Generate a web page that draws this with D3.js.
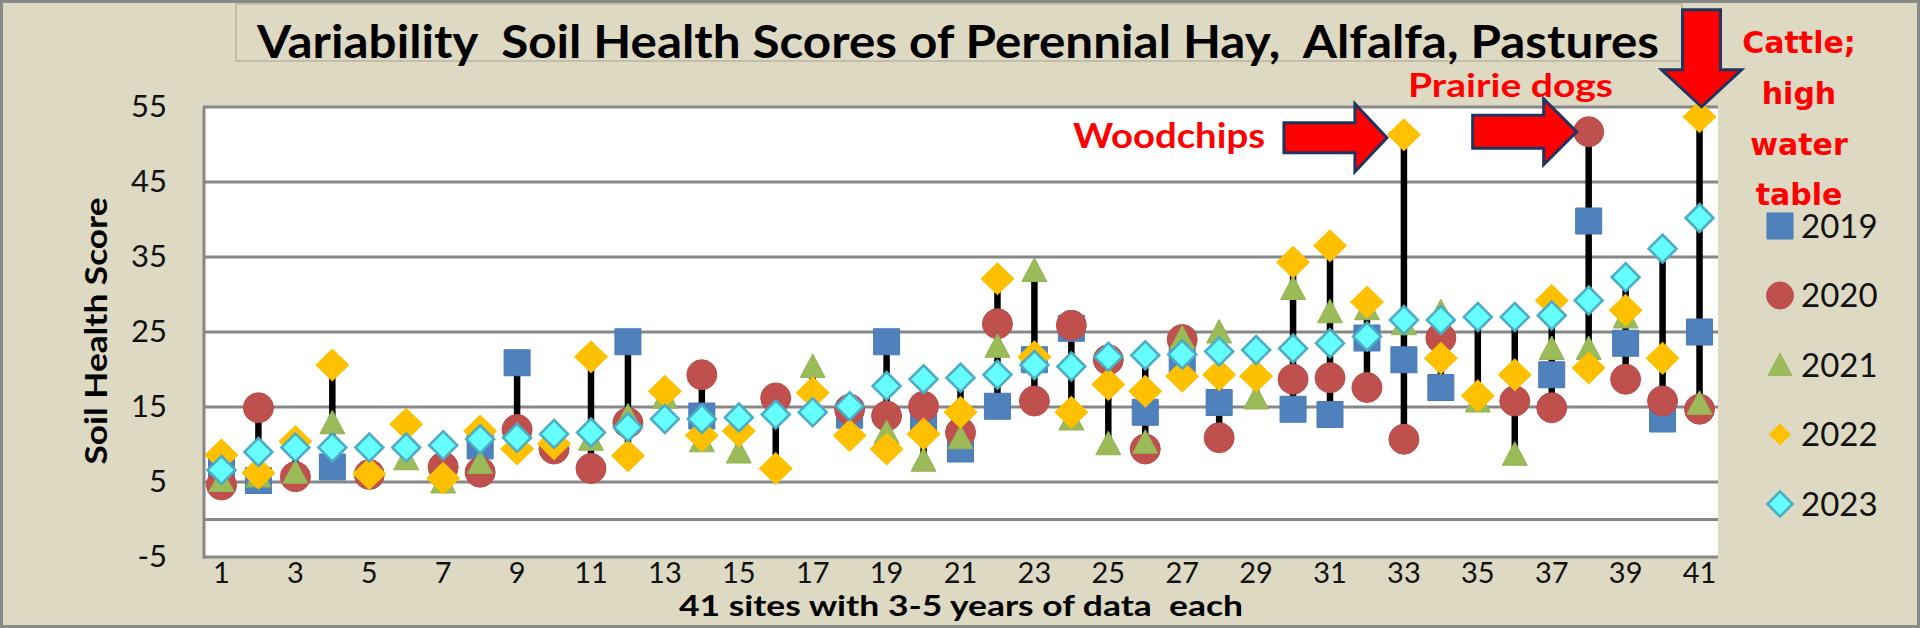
<!DOCTYPE html>
<html><head><meta charset="utf-8">
<script src="https://cdn.jsdelivr.net/npm/d3@7"></script>
<style>
body{margin:0;background:#fff}
svg{display:block}
text{white-space:pre}
</style>
</head><body>
<svg id="chart" width="1920" height="628"></svg>
<script>
// ---------------- data ----------------
const sites = d3.range(1, 42);
const seriesNames = ["2019", "2020", "2021", "2022", "2023"];
const s2019 = [6.5,5.2,null,7.0,null,null,null,9.8,20.9,null,null,23.7,null,13.8,null,null,null,13.9,23.7,13.4,9.4,15.1,21.3,25.5,null,14.3,21.3,15.6,null,14.7,14.0,24.2,21.3,17.6,null,null,19.3,39.8,23.5,13.4,25.0];
const s2020 = [4.6,14.9,5.7,null,6.0,null,7.0,6.3,12.0,9.4,6.8,12.9,null,19.3,null,16.2,null,14.7,13.8,15.1,11.6,26.1,15.8,25.9,21.3,9.4,24.0,10.9,null,18.7,18.9,17.6,10.7,24.2,null,15.8,14.9,51.7,18.7,15.8,14.7];
const s2021 = [5.2,5.8,6.3,12.9,null,8.1,5.0,7.6,null,null,10.7,13.8,16.3,10.5,9.0,null,20.4,null,11.6,7.9,10.9,23.1,33.2,13.4,10.1,10.3,24.2,25.0,16.2,30.8,27.7,28.1,26.1,27.7,15.8,8.7,22.8,22.8,27.0,null,15.5];
const s2022 = [8.6,6.2,10.4,20.6,6.1,12.7,5.5,11.8,9.4,10.1,21.7,8.5,17.1,11.2,11.8,6.8,16.9,11.2,9.4,11.4,14.3,32.1,21.7,14.3,18.0,17.1,19.1,19.3,19.1,34.3,36.5,29.0,51.3,21.5,16.5,19.3,29.2,20.2,27.9,21.5,53.7];
const s2023 = [6.6,9.0,9.6,9.6,9.6,9.6,9.9,10.7,10.9,11.4,11.6,12.3,13.4,13.4,13.6,14.0,14.3,15.1,17.8,18.7,18.9,19.3,20.6,20.4,21.7,21.9,22.0,22.4,22.6,22.8,23.5,24.4,26.6,26.6,27.0,27.0,27.2,29.2,32.3,36.1,40.2];
const yTicks = [-5, 5, 15, 25, 35, 45, 55];
const xTickLabels = sites.filter(d => d % 2 === 1);
const titleText = "Variability  Soil Health Scores of Perennial Hay,  Alfalfa, Pastures";
const yTitle = "Soil Health Score";
const xTitle = "41 sites with 3-5 years of data  each";
const noteWood = "Woodchips";
const notePrairie = "Prairie dogs";
const noteCattle = ["Cattle;", "high", "water", "table"];

const allSeries = [s2019, s2020, s2021, s2022, s2023];

// ---------------- layout ----------------
const svg = d3.select("#chart");
const W = 1920, H = 628;
const plot = {left: 203, right: 1718, top: 107, bottom: 557};

svg.append("rect").attr("x", 1.5).attr("y", 1.5).attr("width", W - 3).attr("height", H - 3)
  .attr("fill", "#DDD9C3").attr("stroke", "#898989").attr("stroke-width", 3);

// title box (faint)
svg.append("rect").attr("x", 236).attr("y", 4).attr("width", 1682 - 236).attr("height", 57)
  .attr("fill", "none").attr("stroke", "#B9B5A2").attr("stroke-width", 1.5);

svg.append("rect").attr("x", plot.left).attr("y", plot.top)
  .attr("width", plot.right - plot.left).attr("height", plot.bottom - plot.top).attr("fill", "#fff");

const x = d3.scaleBand().domain(sites).range([plot.left, plot.right]);
const xc = d => x(d) + x.bandwidth() / 2;
const y = d3.scaleLinear().domain([-5, 55]).range([plot.bottom, plot.top]);

// gridlines
const gridVals = yTicks.concat([0]);
svg.append("g").selectAll("line").data(gridVals).join("line")
  .attr("x1", plot.left).attr("x2", plot.right)
  .attr("y1", d => y(d)).attr("y2", d => y(d))
  .attr("stroke", "#878787").attr("stroke-width", 3);
svg.append("line").attr("x1", plot.left + 1).attr("x2", plot.left + 1)
  .attr("y1", plot.top).attr("y2", plot.bottom + 1.5)
  .attr("stroke", "#878787").attr("stroke-width", 3);

// axes labels
const yAxis = svg.append("g").attr("transform", `translate(${plot.left},0)`)
  .call(d3.axisLeft(y).tickValues(yTicks).tickSize(0).tickPadding(36).tickFormat(d => String(d)));
yAxis.select(".domain").remove();
yAxis.selectAll("text").attr("font-family", "Lato, 'Open Sans', sans-serif").attr("font-size", 31).attr("fill", "#111");

const xAxis = svg.append("g").attr("transform", `translate(0,${plot.bottom})`)
  .call(d3.axisBottom(x).tickValues(xTickLabels).tickSize(0).tickPadding(5).tickFormat(d => String(d)));
xAxis.select(".domain").remove();
xAxis.selectAll("text").attr("font-family", "Lato, 'Open Sans', sans-serif").attr("font-size", 29).attr("fill", "#111");

// titles
svg.append("text").attr("x", 257).attr("y", 58).text(titleText)
  .attr("font-family", "Lato, sans-serif").attr("font-weight", 700).attr("font-size", 46)
  .attr("textLength", 1402).attr("lengthAdjust", "spacingAndGlyphs").attr("fill", "#000");

svg.append("text").attr("transform", "translate(107,331) rotate(-90)").attr("text-anchor", "middle")
  .text(yTitle).attr("font-family", "Lato, sans-serif").attr("font-weight", 700).attr("font-size", 31)
  .attr("textLength", 267).attr("lengthAdjust", "spacingAndGlyphs").attr("fill", "#000");

svg.append("text").attr("x", 961).attr("y", 616).attr("text-anchor", "middle")
  .text(xTitle).attr("font-family", "Lato, sans-serif").attr("font-weight", 700).attr("font-size", 28)
  .attr("textLength", 564).attr("lengthAdjust", "spacingAndGlyphs").attr("fill", "#000");

// high-low lines
const extents = sites.map((s, i) => {
  const vals = allSeries.map(a => a[i]).filter(v => v != null);
  return {site: s, lo: d3.min(vals), hi: d3.max(vals)};
});
svg.append("g").selectAll("line").data(extents).join("line")
  .attr("x1", d => xc(d.site)).attr("x2", d => xc(d.site))
  .attr("y1", d => y(d.lo)).attr("y2", d => y(d.hi))
  .attr("stroke", "#000").attr("stroke-width", 6.5);

// marker definitions
const markers = [
  {fill: "#4F81BD", stroke: "#4A7AB5", sw: 1, path: s => `M${-13*s},${-13*s}h${26*s}v${26*s}h${-26*s}Z`},
  {fill: "#C0504D", stroke: "#B84B48", sw: 1, path: s => `M${-15*s},0a${15*s},${15*s} 0 1,0 ${30*s},0a${15*s},${15*s} 0 1,0 ${-30*s},0Z`},
  {fill: "#9BBB59", stroke: "#93B255", sw: 1, path: s => `M0,${-12.5*s}L${12.5*s},${11*s}L${-12.5*s},${11*s}Z`},
  {fill: "#FFC000", stroke: "#FFC000", sw: 1, path: s => `M0,${-16*s}L${16.5*s},0L0,${16*s}L${-16.5*s},0Z`},
  {fill: "#66FFFF", stroke: "#4BACC6", sw: 2.5, path: s => `M0,${-14*s}L${14*s},0L0,${14*s}L${-14*s},0Z`}
];

allSeries.forEach((arr, k) => {
  const m = markers[k];
  svg.append("g").selectAll("path")
    .data(sites.map((s, i) => ({site: s, v: arr[i]})).filter(d => d.v != null))
    .join("path")
    .attr("transform", d => `translate(${xc(d.site)},${y(d.v)})`)
    .attr("d", m.path(1))
    .attr("fill", m.fill).attr("stroke", m.stroke).attr("stroke-width", m.sw);
});

// legend
const legendScales = [1, 0.9, 0.95, 0.65, 0.9];
const leg = svg.append("g");
seriesNames.forEach((name, k) => {
  const ly = 226 + k * 69.5;
  const m = markers[k];
  leg.append("path").attr("transform", `translate(1780,${ly})`).attr("d", m.path(legendScales[k]))
    .attr("fill", m.fill).attr("stroke", m.stroke).attr("stroke-width", m.sw);
  leg.append("text").attr("x", 1801).attr("y", ly).attr("dy", "0.36em").text(name)
    .attr("font-family", "Lato, sans-serif").attr("font-size", 33).attr("fill", "#111");
});

// annotation arrows (positioned from the data scales)
const arrowStroke = "#1F3560";
function rightArrow(tipX, tipY, headLen, headHalf, shaftLen, shaftHalf) {
  const hx = tipX - headLen;
  return `M${hx - shaftLen},${tipY - shaftHalf}H${hx}V${tipY - headHalf}L${tipX},${tipY}L${hx},${tipY + headHalf}V${tipY + shaftHalf}H${hx - shaftLen}Z`;
}
function downArrow(tipX, tipY, headLen, headHalf, shaftLen, shaftHalf) {
  const hy = tipY - headLen;
  return `M${tipX - shaftHalf},${hy - shaftLen}H${tipX + shaftHalf}V${hy}H${tipX + headHalf}L${tipX},${tipY}L${tipX - headHalf},${hy}H${tipX - shaftHalf}Z`;
}
const woodTip = {x: xc(33) - 17, y: y(s2022[32]) + 3};
const prairieTip = {x: xc(38) - 12, y: y(s2020[37])};
const cattleTip = {x: xc(41) + 2, y: y(s2022[40]) - 10};

svg.append("path").attr("d", rightArrow(woodTip.x, woodTip.y, 32, 34, 71, 15))
  .attr("fill", "#FF0000").attr("stroke", arrowStroke).attr("stroke-width", 3).attr("stroke-linejoin", "miter");
svg.append("path").attr("d", rightArrow(prairieTip.x, prairieTip.y, 33, 33, 71, 16.5))
  .attr("fill", "#FF0000").attr("stroke", arrowStroke).attr("stroke-width", 3);
svg.append("path").attr("d", downArrow(cattleTip.x, cattleTip.y, 37, 40, 60, 19))
  .attr("fill", "#FF0000").attr("stroke", arrowStroke).attr("stroke-width", 3);

svg.append("text").attr("x", 1073).attr("y", 148).text(noteWood)
  .attr("font-family", "Lato, sans-serif").attr("font-weight", 700).attr("font-size", 35)
  .attr("textLength", 192).attr("lengthAdjust", "spacingAndGlyphs").attr("fill", "#FF0000");
svg.append("text").attr("x", 1408).attr("y", 97).text(notePrairie)
  .attr("font-family", "Lato, sans-serif").attr("font-weight", 700).attr("font-size", 32)
  .attr("textLength", 205).attr("lengthAdjust", "spacingAndGlyphs").attr("fill", "#FF0000");
const cattleBase = [53, 104, 155, 205];
noteCattle.forEach((t, i) => {
  svg.append("text").attr("x", 1799).attr("y", cattleBase[i]).attr("text-anchor", "middle").text(t)
    .attr("font-family", "'DejaVu Sans', sans-serif").attr("font-weight", 700).attr("font-size", 30)
    .attr("fill", "#FF0000");
});
</script>
</body></html>
